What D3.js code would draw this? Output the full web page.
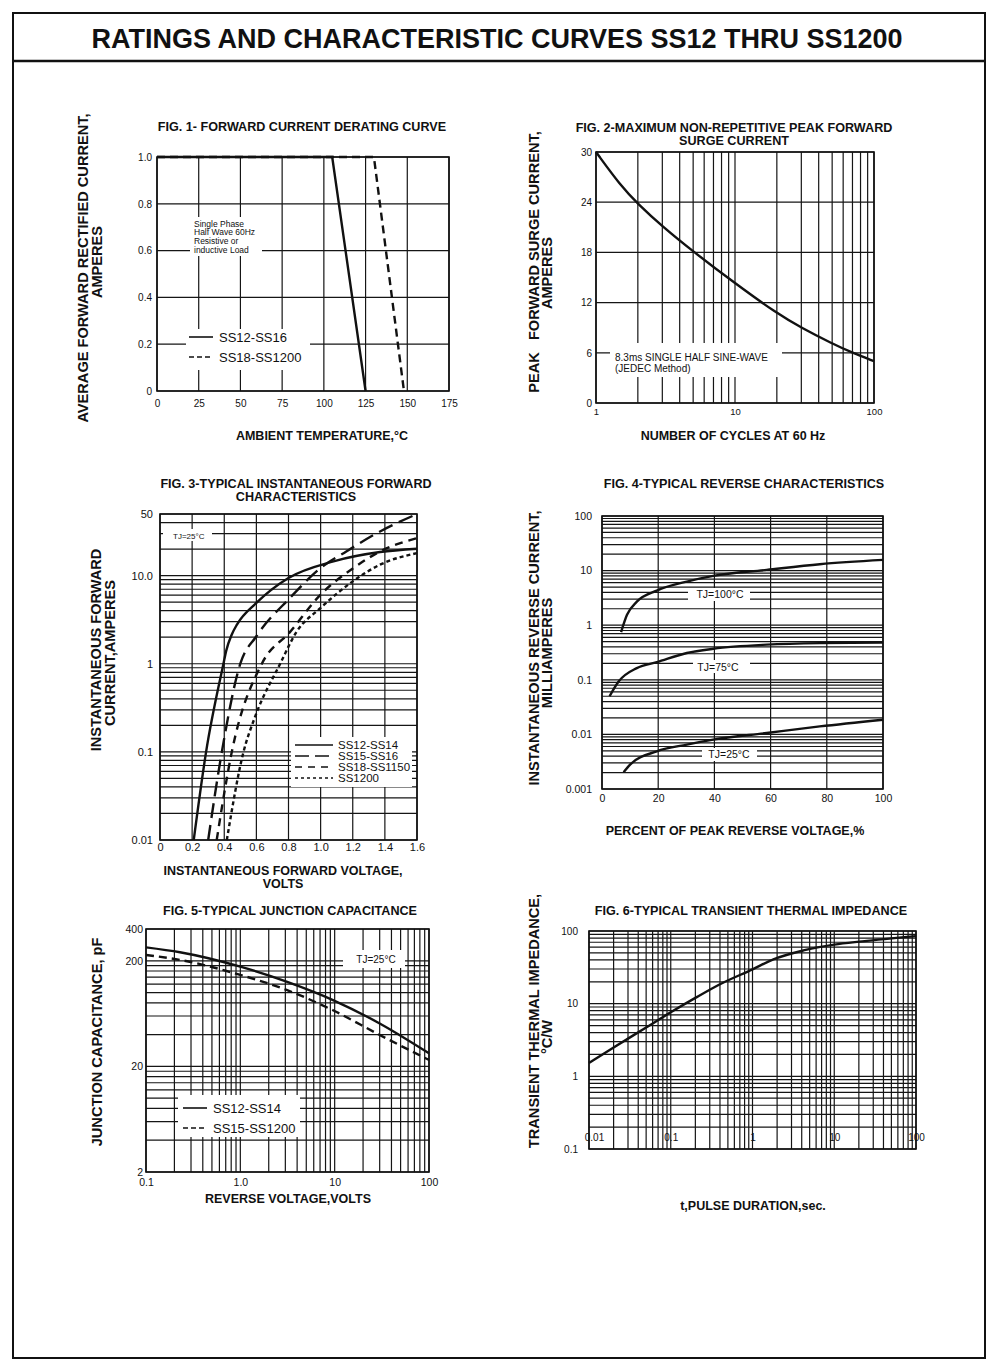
<!DOCTYPE html>
<html><head><meta charset="utf-8">
<script src="https://cdn.jsdelivr.net/npm/d3@7"></script>
<style>
body{margin:0;background:#fff}
svg{font-family:"Liberation Sans",Arial,Helvetica,sans-serif}
.grid line{stroke:#151515;stroke-width:1.2}
.frame{fill:none;stroke:#111;stroke-width:1.6}
.curve{fill:none;stroke:#111;stroke-width:2.4}
.lg{stroke:#111;stroke-width:1.6}
</style></head><body>
<svg id="c" width="1000" height="1370"></svg>
<script>
// ---------------- DATA ----------------
const pageTitle = "RATINGS AND CHARACTERISTIC CURVES SS12 THRU SS1200";

// Fig 1
const fig1XTicks = [0,25,50,75,100,125,150,175];
const fig1YTicks = [0,0.2,0.4,0.6,0.8,1.0];
const fig1YLabels = ["0","0.2","0.4","0.6","0.8","1.0"];
const fig1Names = ["SS12-SS16","SS18-SS1200"];
const fig1TempA = [0,105,125];
const fig1CurA  = [1,1,0];
const fig1TempB = [0,130,148];
const fig1CurB  = [1,1,0];
const fig1Note = ["Single Phase","Half Wave 60Hz","Resistive or","inductive Load"];

// Fig 2
const fig2XTicks = [1,10,100];
const fig2YTicks = [0,6,12,18,24,30];
const fig2Cycles = [1,1.5,2,3,5,10,20,30,50,70,100];
const fig2Surge  = [30,26.0,23.8,21.1,18.1,14.3,10.7,9.0,7.1,6.0,5.0];
const fig2Note = ["8.3ms SINGLE HALF SINE-WAVE","(JEDEC Method)"];

// Fig 3
const fig3XTicks = [0,0.2,0.4,0.6,0.8,1.0,1.2,1.4,1.6];
const fig3XLabels = ["0","0.2","0.4","0.6","0.8","1.0","1.2","1.4","1.6"];
const fig3YTicks = [0.01,0.1,1,10,50];
const fig3YLabels = ["0.01","0.1","1","10.0","50"];
const fig3Names = ["SS12-SS14","SS15-SS16","SS18-SS1150","SS1200"];
const fig3VoltA = [0.21,0.287,0.395,0.412,0.447,0.48,0.6,0.8,1.08,1.37,1.6];
const fig3CurA  = [0.01,0.1,1,1.4,2.15,2.8,4.9,9.4,14.5,18.5,20.2];
const fig3VoltB = [0.30,0.385,0.50,0.60,0.81,1.0,1.16,1.37,1.6];
const fig3CurB  = [0.01,0.1,1,2.05,5.6,12.2,18.8,31.7,50];
const fig3VoltC = [0.353,0.447,0.634,0.81,1.0,1.205,1.37,1.6];
const fig3CurC  = [0.01,0.1,1,2.3,6.1,12.2,18.8,26.6];
const fig3VoltD = [0.416,0.52,0.59,0.748,0.85,1.0,1.2,1.37,1.6];
const fig3CurD  = [0.01,0.1,0.245,1,2.3,4.3,8.6,13.3,18];

// Fig 4
const fig4XTicks = [0,20,40,60,80,100];
const fig4YTicks = [0.001,0.01,0.1,1,10,100];
const fig4YLabels = ["0.001","0.01","0.1","1","10","100"];
const fig4Names = ["TJ=100°C","TJ=75°C","TJ=25°C"];
const fig4Pct100 = [6.8,8.9,12.4,19.5,30.2,39.6,58.6,77.5,100];
const fig4Cur100 = [0.75,1.55,2.7,4.3,6.3,8.0,10.3,13.1,15.7];
const fig4Pct75  = [2.7,5.9,12.4,19.5,30.2,39.6,58.6,77.5,100];
const fig4Cur75  = [0.05,0.093,0.164,0.21,0.31,0.37,0.44,0.47,0.48];
const fig4Pct25  = [7.7,10,19.5,30.2,39.6,58.6,77.5,100];
const fig4Cur25  = [0.00203,0.0028,0.0049,0.0065,0.008,0.0106,0.014,0.0186];

// Fig 5
const fig5XTicks = [0.1,1,10,100];
const fig5XLabels = ["0.1","1.0","10","100"];
const fig5YTicks = [2,20,200,400];
const fig5Names = ["SS12-SS14","SS15-SS1200"];
const fig5Volt = [0.1,0.229,1.0,3.09,9.6,30,100];
const fig5CapA = [268,241,176,127,85,51,26.6];
const fig5CapB = [227,204,147,106,68,39.7,23];

// Fig 6
const fig6XTicks = [0.01,0.1,1,10,100];
const fig6XLabels = ["0.01","0.1","1","10","100"];
const fig6YTicks = [0.1,1,10,100];
const fig6YLabels = ["0.1","1","10","100"];
const fig6Time = [0.01,0.02,0.05,0.1,0.2,0.4,1,1.8,4.2,10,22,100];
const fig6Imp  = [1.53,2.5,4.7,7.6,12,18.5,29.7,40.7,54,65,72,85];

// ---------------- DRAWING ----------------
const FONT = '"Liberation Sans", Arial, Helvetica, sans-serif';
const svg = d3.select('#c');
const zip = (a,b)=>a.map((v,i)=>[v,b[i]]);

function logGrid(dom, base){
  base = base||1;
  const out=[]; const lo=dom[0], hi=dom[1];
  for(let e=-4;e<=4;e++){
    for(let k=1;k<=9;k++){
      const v = +(k*base*Math.pow(10,e)).toPrecision(6);
      if(v>=lo*0.9999 && v<=hi*1.0001) out.push(v);
    }
  }
  return out;
}

function txt(g, x, y, s, size, opts){
  opts = opts||{};
  const t = g.append('text').attr('x',x).attr('y',y).attr('font-size',size)
    .attr('font-family',FONT).attr('fill','#111').text(s);
  if(opts.bold) t.attr('font-weight','bold');
  t.attr('text-anchor', opts.anchor||'start');
  if(opts.pre) t.style('white-space','pre');
  return t;
}
function ylab(g, x, y, s, size){
  return g.append('text').attr('transform',`translate(${x},${y}) rotate(-90)`)
    .attr('dy','0.36em').attr('text-anchor','middle').attr('font-size',size)
    .attr('font-weight','bold').attr('font-family',FONT).attr('fill','#111')
    .style('white-space','pre').text(s);
}

function panel(p){
  const g = svg.append('g');
  const x = (p.xLog? d3.scaleLog(): d3.scaleLinear()).domain(p.xDomain).range([p.left,p.right]);
  const y = (p.yLog? d3.scaleLog(): d3.scaleLinear()).domain(p.yDomain).range([p.bottom,p.top]);
  const gg = g.append('g').attr('class','grid');
  gg.selectAll('line.v').data(p.xGrid).join('line').attr('class','v')
    .attr('x1',d=>x(d)).attr('x2',d=>x(d)).attr('y1',p.top).attr('y2',p.bottom);
  gg.selectAll('line.h').data(p.yGrid).join('line').attr('class','h')
    .attr('y1',d=>y(d)).attr('y2',d=>y(d)).attr('x1',p.left).attr('x2',p.right);
  (p.knock||[]).forEach(k=>g.append('rect').attr('x',k[0]).attr('y',k[1]).attr('width',k[2]).attr('height',k[3]).attr('fill','#fff'));
  g.append('rect').attr('class','frame').attr('x',p.left).attr('y',p.top)
    .attr('width',p.right-p.left).attr('height',p.bottom-p.top);
  return {g,x,y};
}
function axisB(g, scale, vals, labels, yPos, size){
  const a = g.append('g').attr('transform',`translate(0,${yPos})`)
    .call(d3.axisBottom(scale).tickValues(vals).tickFormat((d,i)=>labels[i]).tickSize(0).tickPadding(0));
  a.select('.domain').remove();
  a.selectAll('text').attr('font-size',size).attr('font-family',FONT).attr('fill','#111');
  return a;
}
function axisL(g, scale, vals, labels, xPos, size){
  const a = g.append('g').attr('transform',`translate(${xPos},0)`)
    .call(d3.axisLeft(scale).tickValues(vals).tickFormat((d,i)=>labels[i]).tickSize(0).tickPadding(0));
  a.select('.domain').remove();
  a.selectAll('text').attr('font-size',size).attr('font-family',FONT).attr('fill','#111');
  return a;
}
function curve(P, xs, ys, dash, w, cv){
  const line = d3.line().x(d=>P.x(d[0])).y(d=>P.y(d[1])).curve(cv||d3.curveMonotoneX);
  const p = P.g.append('path').attr('class','curve').attr('d',line(zip(xs,ys)));
  if(dash) p.attr('stroke-dasharray',dash);
  if(w) p.attr('stroke-width',w);
  return p;
}

// page frame & title
svg.append('rect').attr('x',13).attr('y',13).attr('width',972).attr('height',1345)
  .attr('fill','none').attr('stroke','#111').attr('stroke-width',2);
svg.append('line').attr('x1',13).attr('x2',985).attr('y1',61).attr('y2',61)
  .attr('stroke','#111').attr('stroke-width',2.5);
txt(svg, 497, 48, pageTitle, 27, {bold:true, anchor:'middle'});

// ---- FIG 1 ----
{
  const P = panel({left:157,right:449,top:157,bottom:391,xDomain:[0,175],yDomain:[0,1],
    xGrid:fig1XTicks, yGrid:fig1YTicks,
    knock:[[190,217,72,39],[186,329,124,41]]});
  fig1Note.forEach((s,i)=>txt(P.g,194,226.5+i*8.8,s,8.5));
  curve(P, fig1TempB, fig1CurB, "8,5", 2.4, d3.curveLinear);
  curve(P, fig1TempA, fig1CurA, null, 2.6, d3.curveLinear);
  P.g.append('line').attr('class','lg').attr('x1',189).attr('x2',213).attr('y1',337).attr('y2',337);
  P.g.append('line').attr('class','lg').attr('x1',189).attr('x2',213).attr('y1',357).attr('y2',357).attr('stroke-dasharray','5,3');
  txt(P.g,219,341.5,fig1Names[0],13);
  txt(P.g,219,361.5,fig1Names[1],13);
  axisB(P.g,P.x,fig1XTicks,fig1XTicks.map(String),399.5,10);
  axisL(P.g,P.y,fig1YTicks,fig1YLabels,152,10);
  txt(svg,302,131,"FIG. 1- FORWARD CURRENT DERATING CURVE",12.6,{bold:true,anchor:'middle'});
  txt(svg,322,440,"AMBIENT TEMPERATURE,°C",12.5,{bold:true,anchor:'middle'});
  ylab(svg,83,268,"AVERAGE FORWARD RECTIFIED CURRENT,",14.6);
  ylab(svg,97,262,"AMPERES",14.6);
}

// ---- FIG 2 ----
{
  const P = panel({left:596,right:874,top:152,bottom:403,xLog:true,xDomain:[1,100],yDomain:[0,30],
    xGrid:logGrid([1,100]), yGrid:fig2YTicks,
    knock:[[610,343,172,34]]});
  txt(P.g,615,360.5,fig2Note[0],10);
  txt(P.g,615,372,fig2Note[1],10);
  curve(P, fig2Cycles, fig2Surge, null, 2.6, d3.curveBasis);
  axisB(P.g,P.x,fig2XTicks,fig2XTicks.map(String),408,9.5);
  axisL(P.g,P.y,fig2YTicks,fig2YTicks.map(String),592,10);
  txt(svg,734,132,"FIG. 2-MAXIMUM NON-REPETITIVE PEAK FORWARD",12.6,{bold:true,anchor:'middle'});
  txt(svg,734,145,"SURGE CURRENT",12.6,{bold:true,anchor:'middle'});
  txt(svg,733,440,"NUMBER OF CYCLES AT 60 Hz",12.5,{bold:true,anchor:'middle'});
  ylab(svg,534,262,"PEAK   FORWARD SURGE CURRENT,",14.6);
  ylab(svg,547,273,"AMPERES",14.6);
}

// ---- FIG 3 ----
{
  const P = panel({left:160,right:417,top:514,bottom:840,yLog:true,xDomain:[0,1.6],yDomain:[0.01,50],
    xGrid:fig3XTicks, yGrid:logGrid([0.01,50]),
    knock:[[163,529,49,12],[291,737,121,50]]});
  txt(P.g,173,538.5,"TJ=25°C",8);
  curve(P, fig3VoltD, fig3CurD, "4,3", 2.2);
  curve(P, fig3VoltC, fig3CurC, "8,6", 2.3);
  curve(P, fig3VoltB, fig3CurB, "15,7", 2.4);
  curve(P, fig3VoltA, fig3CurA, null, 2.4);
  const dashes = [null,"14,6","7,6","3,3"];
  fig3Names.forEach((n,i)=>{
    const yy = 745+i*11;
    const l = P.g.append('line').attr('class','lg').attr('x1',295).attr('x2',333).attr('y1',yy).attr('y2',yy);
    if(dashes[i]) l.attr('stroke-dasharray', dashes[i]);
    txt(P.g,338,yy+4,n,11.5);
  });
  axisB(P.g,P.x,fig3XTicks,fig3XLabels,843,11);
  axisL(P.g,P.y,fig3YTicks,fig3YLabels,153,11);
  txt(svg,296,488,"FIG. 3-TYPICAL INSTANTANEOUS FORWARD",12.6,{bold:true,anchor:'middle'});
  txt(svg,296,501,"CHARACTERISTICS",12.6,{bold:true,anchor:'middle'});
  txt(svg,283,875,"INSTANTANEOUS FORWARD VOLTAGE,",12.5,{bold:true,anchor:'middle'});
  txt(svg,283,888,"VOLTS",12.5,{bold:true,anchor:'middle'});
  ylab(svg,96,650,"INSTANTANEOUS FORWARD",14.6);
  ylab(svg,110,653,"CURRENT,AMPERES",14.6);
}

// ---- FIG 4 ----
{
  const P = panel({left:602,right:883,top:516,bottom:789,yLog:true,xDomain:[0,100],yDomain:[0.001,100],
    xGrid:fig4XTicks, yGrid:logGrid([0.001,100]),
    knock:[[688,588,62,13],[693,660,57,13],[702,748,55,13]]});
  txt(P.g,720,598,fig4Names[0],10.5,{anchor:'middle'});
  txt(P.g,718,670.5,fig4Names[1],10.5,{anchor:'middle'});
  txt(P.g,729,758,fig4Names[2],10.5,{anchor:'middle'});
  curve(P, fig4Pct100, fig4Cur100, null, 2.4);
  curve(P, fig4Pct75, fig4Cur75, null, 2.4);
  curve(P, fig4Pct25, fig4Cur25, null, 2.4);
  axisB(P.g,P.x,fig4XTicks,fig4XTicks.map(String),795,10.5);
  axisL(P.g,P.y,fig4YTicks,fig4YLabels,592,10.5);
  txt(svg,744,488,"FIG. 4-TYPICAL REVERSE CHARACTERISTICS",12.6,{bold:true,anchor:'middle'});
  txt(svg,735,835,"PERCENT OF PEAK REVERSE VOLTAGE,%",12.5,{bold:true,anchor:'middle'});
  ylab(svg,534,648,"INSTANTANEOUS REVERSE CURRENT,",14.6);
  ylab(svg,547,653,"MILLIAMPERES",14.6);
}

// ---- FIG 5 ----
{
  const P = panel({left:146,right:429,top:929,bottom:1172,xLog:true,yLog:true,xDomain:[0.1,100],yDomain:[2,400],
    xGrid:logGrid([0.1,100]), yGrid:logGrid([2,400],2),
    knock:[[343,950,62,18],[178,1095,122,42]]});
  txt(P.g,376,963,"TJ=25°C",10,{anchor:'middle'});
  curve(P, fig5Volt, fig5CapB, "8,5", 2.4);
  curve(P, fig5Volt, fig5CapA, null, 2.4);
  P.g.append('line').attr('class','lg').attr('x1',183).attr('x2',207).attr('y1',1108).attr('y2',1108);
  P.g.append('line').attr('class','lg').attr('x1',183).attr('x2',207).attr('y1',1128).attr('y2',1128).attr('stroke-dasharray','5,3');
  txt(P.g,213,1113,fig5Names[0],13);
  txt(P.g,213,1133,fig5Names[1],13);
  axisB(P.g,P.x,fig5XTicks,fig5XLabels,1179,10.5);
  axisL(P.g,P.y,fig5YTicks,fig5YTicks.map(String),143,10.5);
  txt(svg,290,915,"FIG. 5-TYPICAL JUNCTION CAPACITANCE",12.6,{bold:true,anchor:'middle'});
  txt(svg,288,1203,"REVERSE VOLTAGE,VOLTS",12.5,{bold:true,anchor:'middle'});
  ylab(svg,97,1042,"JUNCTION CAPACITANCE, pF",14.6);
}

// ---- FIG 6 ----
{
  const P = panel({left:589,right:916,top:931,bottom:1149,xLog:true,yLog:true,xDomain:[0.01,100],yDomain:[0.1,100],
    xGrid:logGrid([0.01,100]), yGrid:logGrid([0.1,100]), knock:[]});
  curve(P, fig6Time, fig6Imp, null, 2.4);
  const ax = axisB(P.g,P.x,fig6XTicks,fig6XLabels,1134,10);
  ax.selectAll('text').filter((d,i)=>i===0).attr('dx',5);
  axisL(P.g,P.y,fig6YTicks,fig6YLabels,578,10);
  txt(svg,751,915,"FIG. 6-TYPICAL TRANSIENT THERMAL IMPEDANCE",12.6,{bold:true,anchor:'middle'});
  txt(svg,753,1210,"t,PULSE DURATION,sec.",12.5,{bold:true,anchor:'middle'});
  ylab(svg,534,1021,"TRANSIENT THERMAL IMPEDANCE,",14.6);
  ylab(svg,547,1037,"°C/W",14.6);
}
</script>
</body></html>
